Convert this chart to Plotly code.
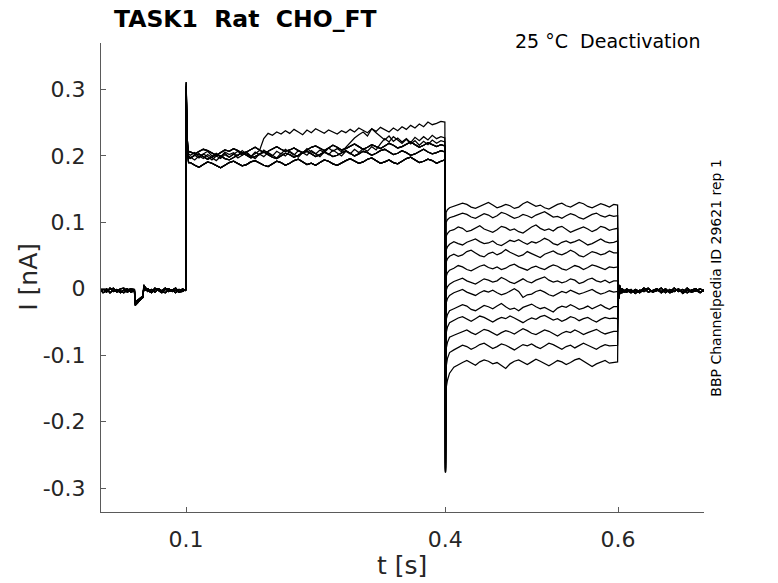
import numpy as np
import plotly.graph_objects as go

# ---------------- data (currents in pA, converted to nA) ----------------
# baseline segment (0 - 0.1 s)
T_BASE = [0.000, 0.004, 0.008, 0.012, 0.016, 0.020, 0.024, 0.028, 0.032, 0.036,
          0.0403, 0.0412, 0.044, 0.047, 0.0502, 0.0512, 0.0525,
          0.056, 0.060, 0.064, 0.068, 0.072, 0.076, 0.080, 0.084, 0.088, 0.092, 0.096,
          0.0996]
BASE_1 = [-3, 0, -5, 1, -4, -1, -6, -2, 0, -5, -3, -22, -19, -16, -13, 4, 0,
          -4, -1, -5, 0, -3, 1, -4, -2, -6, -1, -3, -2]
BASE_2 = [-5, -1, 0, -6, -2, -4, 0, 1, -5, -2, -4, -25, -21, -17, -12, 6, -2,
          0, -5, 1, -3, -6, -1, 0, -4, -2, -5, 0, -3]
BASE_3 = [0, -6, -3, -1, 1, -5, -3, -6, -2, 0, -1, -20, -17, -14, -11, 2, 3,
          -3, -6, -1, 0, -4, -6, -1, -2, 1, -5, -4, -1]

# activation step segment (0.1 - 0.4 s)
T_STEP = [0.1002, 0.1006, 0.1015, 0.103] + [round(0.105 + 0.005 * k, 4) for k in range(59)] + [0.3996]
STEP_LOW = [298, 248, 205, 190,
            190, 186, 183, 187, 191, 189, 185, 182, 186, 190,
            192, 188, 185, 187, 191, 193, 189, 186, 184, 188,
            192, 190, 186, 189, 193, 195, 191, 187, 189, 186,
            190, 194, 192, 188, 186, 190, 193, 196, 192, 189,
            191, 195, 197, 193, 189, 191, 194, 190, 188, 192,
            196, 198, 194, 190, 192, 195, 193, 189, 192,
            194]
STEP_MID = [311, 262, 215, 198,
            197, 201, 203, 199, 195, 198, 202, 200, 196, 194,
            198, 202, 205, 201, 197, 199, 203, 206, 202, 198,
            196, 200, 204, 202, 198, 201, 205, 207, 203, 199,
            202, 206, 203, 199, 201, 205, 208, 204, 200, 203,
            207, 205, 201, 204, 208, 210, 206, 202, 204, 208,
            205, 201, 203, 207, 210, 206, 203, 205, 208,
            206]
STEP_HIGH = [305, 270, 224, 206,
             206, 203, 207, 210, 208, 204, 201, 205, 209, 207,
             211, 208, 204, 206, 210, 213, 209, 205, 207, 211,
             214, 210, 207, 209, 212, 208, 205, 209, 213, 215,
             211, 208, 212, 216, 213, 209, 211, 215, 218, 214,
             210, 213, 217, 214, 211, 215, 219, 216, 212, 214,
             218, 221, 217, 213, 216, 220, 217, 214, 217,
             215]
STEP_UP1 = [302, 255, 212, 200,
            198, 194, 200, 196, 202, 197, 193, 199, 204, 198,
            202, 207, 201, 205, 199, 203, 208, 226, 234, 231,
            236, 233, 238, 234, 240, 236, 232, 239, 235, 241,
            237, 234, 239, 236, 233, 238, 235, 240, 236, 242,
            238, 235, 241, 237, 243, 239, 236, 242, 238, 244,
            240, 246, 242, 248, 244, 251, 247, 249, 252,
            251]
STEP_UP2 = [308, 258, 218, 203,
            201, 205, 199, 203, 207, 200, 204, 198, 206, 202,
            205, 200, 208, 203, 199, 206, 202, 209, 204, 200,
            207, 203, 210, 205, 201, 208, 204, 211, 206, 203,
            209, 205, 212, 207, 211, 206, 213, 219, 227, 232,
            236, 230, 241, 235, 229, 224, 230, 222, 227, 221,
            226, 220, 228, 223, 229, 224, 231, 226, 229,
            227]
STEP_UP3 = [296, 250, 210, 197,
            196, 201, 197, 203, 199, 194, 200, 196, 202, 198,
            203, 197, 201, 206, 200, 196, 203, 199, 205, 201,
            197, 204, 200, 207, 202, 198, 205, 201, 208, 203,
            199, 206, 202, 209, 204, 200, 207, 203, 210, 205,
            211, 207, 214, 209, 218, 226, 221, 229, 224, 219,
            225, 218, 223, 216, 222, 217, 224, 219, 223,
            221]

# deactivation segment (0.4 - 0.6 s), one list per sweep
T_DEACT = [0.4003, 0.401, 0.4025, 0.405] + [round(0.41 + 0.005 * k, 4) for k in range(38)] + [0.5995]
DEACT_01 = [-262, 115, 119, 122,
            124, 126, 129, 127, 123, 121, 124, 128, 130, 126,
            122, 124, 127, 125, 121, 123, 128, 131, 127, 124,
            126, 122, 120, 124, 127, 129, 125, 123, 126, 130,
            128, 124, 122, 125, 128, 126, 123, 127, 126]
DEACT_02 = [-265, 100, 104, 107,
            109, 111, 114, 112, 108, 106, 109, 113, 111, 107,
            110, 115, 113, 109, 106, 108, 112, 110, 107, 111,
            114, 116, 112, 108, 109, 106, 110, 113, 111, 107,
            105, 109, 112, 114, 110, 108, 111, 109, 110]
DEACT_03 = [-268, 79, 83, 87,
            89, 93, 91, 86, 88, 92, 95, 90, 87, 85,
            89, 94, 92, 88, 90, 86, 84, 89, 93, 96,
            91, 88, 90, 87, 92, 94, 89, 85, 88, 91,
            93, 90, 86, 89, 94, 92, 88, 90, 91]
DEACT_04 = [-270, 58, 63, 67,
            71, 68, 66, 70, 73, 75, 71, 68, 69, 72,
            67, 65, 69, 73, 71, 74, 70, 67, 71, 69,
            72, 76, 73, 68, 66, 70, 72, 69, 71, 74,
            70, 66, 68, 72, 75, 71, 69, 70, 72]
DEACT_05 = [-271, 40, 45, 49,
            52, 49, 51, 56, 58, 54, 50, 48, 53, 55,
            51, 54, 59, 55, 52, 49, 51, 56, 53, 50,
            47, 52, 55, 57, 53, 51, 54, 58, 55, 50,
            48, 52, 56, 54, 51, 53, 57, 54, 54]
DEACT_06 = [-272, 18, 24, 28,
            31, 35, 33, 29, 27, 31, 34, 36, 32, 30,
            33, 29, 31, 35, 37, 33, 30, 28, 32, 34,
            31, 29, 33, 36, 34, 30, 28, 31, 35, 33,
            29, 32, 36, 34, 31, 29, 33, 32, 33]
DEACT_07 = [-273, -3, 3, 7,
            11, 14, 16, 12, 9, 7, 11, 15, 13, 10,
            12, 17, 14, 10, 8, 12, 15, 11, 9, 13,
            16, 18, 13, 10, 12, 9, 11, 15, 13, 8,
            10, 14, 16, 12, 10, 13, 9, 12, 12]
DEACT_08 = [-274, -22, -15, -10,
            -6, -3, -1, -5, -8, -10, -6, -3, -5, -2,
            -6, -9, -7, -3, 0, -4, -13, -9, -8, -4,
            -2, -5, -9, -11, -7, -4, -6, -2, -5, -8,
            -6, -3, -1, -5, -8, -6, -3, -5, -4]
DEACT_09 = [-275, -47, -39, -33,
            -30, -27, -24, -26, -31, -33, -29, -25, -27, -30,
            -26, -22, -27, -31, -29, -33, -28, -25, -23, -27,
            -30, -28, -32, -35, -29, -26, -28, -24, -27, -31,
            -29, -26, -30, -27, -24, -28, -31, -27, -27]
DEACT_10 = [-275, -67, -58, -51,
            -47, -44, -42, -46, -49, -45, -41, -43, -47, -50,
            -46, -43, -45, -41, -44, -48, -51, -47, -44, -46,
            -42, -40, -44, -47, -45, -49, -46, -42, -44, -48,
            -45, -43, -47, -50, -46, -43, -45, -44, -45]
DEACT_11 = [-276, -91, -81, -73,
            -70, -67, -64, -62, -66, -69, -65, -61, -63, -67,
            -70, -66, -63, -65, -68, -64, -60, -63, -67, -69,
            -66, -62, -64, -68, -71, -67, -64, -66, -62, -65,
            -69, -66, -63, -61, -65, -68, -66, -64, -64]
DEACT_12 = [-276, -118, -105, -96,
            -92, -88, -85, -87, -91, -88, -84, -82, -86, -90,
            -87, -83, -85, -89, -92, -88, -84, -86, -83, -87,
            -90, -86, -82, -84, -88, -91, -87, -85, -89, -86,
            -82, -85, -88, -91, -87, -84, -86, -85, -85]
DEACT_13 = [-277, -150, -138, -127,
            -118, -114, -111, -108, -112, -115, -110, -107, -109, -113,
            -111, -116, -120, -113, -109, -107, -111, -114, -110, -106,
            -109, -113, -116, -112, -108, -110, -114, -111, -107, -105,
            -109, -113, -117, -113, -110, -108, -112, -111, -110]

# tail segment (0.6 - 0.7 s)
T_TAIL = [0.6003, 0.601, 0.602, 0.6035, 0.605, 0.608] + [round(0.61 + 0.005 * k, 4) for k in range(19)]
TAIL_1 = [9, -11, 3, -7, 0, -5, -2, -6, -1, -4, 1, -5, -3, 0, -6, -2, -5, 1, -4, -1, -6, -2, 0, -5, -3]
TAIL_2 = [-13, 6, -8, 1, -6, -2, -5, -1, -7, -2, -4, 0, -5, -3, 1, -6, -1, -4, 0, -7, -2, -5, -3, 0, -4]
TAIL_3 = [3, -15, 5, -6, -1, -4, 0, -4, -3, -6, -1, 1, -5, -2, -4, 0, -6, -3, -1, -5, 1, -4, -2, -6, -1]

# sweep composition
BASES = [BASE_1, BASE_2, BASE_3]
TAILS = [TAIL_1, TAIL_2, TAIL_3]
STEPS = [STEP_MID, STEP_LOW, STEP_HIGH, STEP_UP1, STEP_MID, STEP_LOW, STEP_UP2,
         STEP_HIGH, STEP_LOW, STEP_MID, STEP_UP3, STEP_HIGH, STEP_LOW]
DEACTS = [DEACT_01, DEACT_02, DEACT_03, DEACT_04, DEACT_05, DEACT_06, DEACT_07,
          DEACT_08, DEACT_09, DEACT_10, DEACT_11, DEACT_12, DEACT_13]

X_TICKS = [0.1, 0.4, 0.6]
X_TICKTEXT = ["0.1", "0.4", "0.6"]
Y_TICKS = [-0.3, -0.2, -0.1, 0.0, 0.1, 0.2, 0.3]
Y_TICKTEXT = ["-0.3", "-0.2", "-0.1", "0", "0.1", "0.2", "0.3"]

TITLE = "TASK1\u00a0\u00a0Rat\u00a0\u00a0CHO_FT"
COND = "25 °C\u00a0\u00a0Deactivation"
SIDE = "BBP Channelpedia ID 29621 rep 1"
XLABEL = "t [s]"
YLABEL = "I [nA]"

# ---------------- figure ----------------
FONT = "DejaVu Sans"
# page body margin is removed, so the plot area lands at x 101..704, y 43..512
PX_L, PX_T, PW, PH = 101.3, 42.7, 603.0, 469.6
fig = go.Figure()
t_all = T_BASE + T_STEP + T_DEACT + T_TAIL
for i in range(13):
    vals = BASES[i % 3] + STEPS[i] + DEACTS[i] + TAILS[i % 3]
    fig.add_trace(go.Scatter(x=t_all, y=np.array(vals) / 1000.0, mode="lines",
                             line=dict(color="black", width=1.25),
                             showlegend=False, hoverinfo="skip"))

axis_col = "#5a5a5a"
txt_col = "#262626"
fig.update_layout(
    width=778, height=583, autosize=False,
    paper_bgcolor="white", plot_bgcolor="white",
    margin=dict(l=PX_L, r=778 - PX_L - PW, t=PX_T, b=583 - PX_T - PH),
    font=dict(family=FONT, color=txt_col),
    xaxis=dict(range=[0.0016, 0.6995], showgrid=False, zeroline=False,
               showline=True, linecolor=axis_col, linewidth=1, mirror=False,
               ticks="inside", ticklen=5, tickcolor=axis_col,
               tickvals=X_TICKS, ticktext=X_TICKTEXT,
               tickfont=dict(size=22, family=FONT, color=txt_col),
               ticklabelstandoff=8),
    yaxis=dict(range=[-0.336, 0.370], showgrid=False, zeroline=False,
               showline=True, linecolor=axis_col, linewidth=1, mirror=False,
               ticks="inside", ticklen=5, tickcolor=axis_col,
               tickvals=Y_TICKS, ticktext=Y_TICKTEXT,
               tickfont=dict(size=22, family=FONT, color=txt_col),
               ticklabelstandoff=10),
)


def px_x(x):
    return (x - PX_L) / PW


def px_y(y):
    return (PX_T + PH - y) / PH


fig.add_annotation(text=TITLE, xref="paper", yref="paper",
                   x=px_x(113), y=px_y(19.0), xanchor="left", yanchor="middle",
                   showarrow=False, borderpad=0,
                   font=dict(family=FONT, size=23.5, color="black", weight="bold"))
fig.add_annotation(text=COND, xref="paper", yref="paper",
                   x=px_x(702), y=px_y(41), xanchor="right", yanchor="middle",
                   showarrow=False, font=dict(family=FONT, size=19, color="black"))
fig.add_annotation(text=SIDE, xref="paper", yref="paper",
                   x=px_x(716), y=px_y(278), xanchor="center", yanchor="middle",
                   showarrow=False, textangle=-90,
                   font=dict(family=FONT, size=14, color="black"))
fig.add_annotation(text=XLABEL, xref="paper", yref="paper",
                   x=px_x(402), y=px_y(566), xanchor="center", yanchor="middle",
                   showarrow=False, font=dict(family=FONT, size=25, color=txt_col))
fig.add_annotation(text=YLABEL, xref="paper", yref="paper",
                   x=px_x(28), y=px_y(277), xanchor="center", yanchor="middle",
                   showarrow=False, textangle=-90,
                   font=dict(family=FONT, size=25, color=txt_col))

fig.write_html("out.html", config={"displayModeBar": False},
               post_script="document.body.style.margin='0';")
